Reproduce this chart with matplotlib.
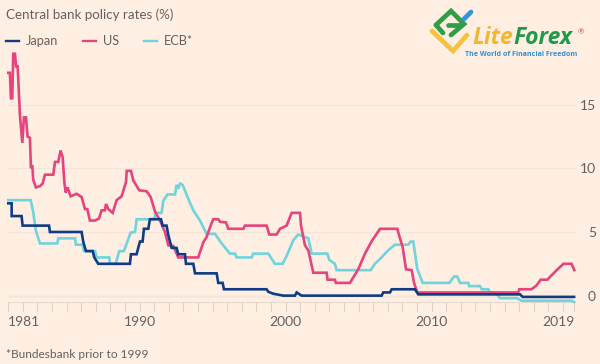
import matplotlib
matplotlib.use('Agg')
import matplotlib.pyplot as plt
from matplotlib.lines import Line2D

# Values
japan_years = [1981.0, 1981.23, 1981.23, 1981.91, 1981.98, 1983.79, 1983.85, 1986.02, 1986.14, 1986.32, 1986.78,
               1986.89, 1987.16, 1989.33, 1989.4, 1989.79, 1989.9, 1990.02, 1990.2, 1990.29, 1990.59, 1990.7,
               1991.46, 1991.57, 1991.84, 1991.96, 1992.19, 1992.53, 1992.64, 1993.1, 1993.17, 1993.67, 1993.79,
               1995.27, 1995.38, 1995.68, 1995.77, 1998.69, 1998.81, 1999.15, 1999.84, 2000.63, 2000.75, 2001.09,
               2006.57, 2006.68, 2007.14, 2007.26, 2008.85, 2009.08, 2016.05, 2016.23, 2019.75]
japan_rates = [7.25, 7.25, 6.25, 6.25, 5.5, 5.5, 5.0, 5.0, 4.2, 3.5, 3.5,
               3.0, 2.5, 2.5, 3.25, 3.25, 3.75, 4.25, 4.25, 5.25, 5.25, 6.0,
               6.0, 5.5, 5.5, 4.75, 3.75, 3.75, 3.25, 3.25, 2.5, 2.5, 1.75,
               1.75, 1.0, 1.0, 0.5, 0.5, 0.3, 0.15, 0.0, 0.0, 0.25, 0.0,
               0.0, 0.25, 0.25, 0.5, 0.5, 0.1, 0.1, -0.1, -0.1]

us_years = [1981.0, 1981.11, 1981.18, 1981.27, 1981.34, 1981.46, 1981.53, 1981.64, 1981.8, 1981.96, 1982.07, 1982.21,
            1982.32, 1982.48, 1982.55, 1982.64, 1982.71, 1982.89, 1983.17, 1983.35, 1983.51, 1984.08, 1984.2, 1984.42,
            1984.58, 1984.72, 1984.84, 1984.93, 1985.06, 1985.27, 1985.68, 1986.02, 1986.25, 1986.41, 1986.59, 1986.94,
            1987.21, 1987.39, 1987.62, 1987.69, 1987.85, 1988.15, 1988.42, 1988.76, 1989.06, 1989.11, 1989.4, 1989.56,
            1989.97, 1990.47, 1990.75, 1991.05, 1991.39, 1991.73, 1991.96, 1992.3, 1992.64, 1994.01, 1994.36, 1994.58,
            1994.86, 1995.04, 1995.38, 1995.5, 1995.91, 1996.07, 1997.1, 1997.21, 1998.69, 1998.88, 1999.38, 1999.61,
            2000.06, 2000.41, 2000.98, 2001.05, 2001.32, 2001.55, 2001.89, 2002.8, 2002.87, 2003.37, 2003.44, 2004.4,
            2004.97, 2005.43, 2005.89, 2006.46, 2007.64, 2007.83, 2008.01, 2008.24, 2008.63, 2008.79, 2009.01, 2015.93,
            2016.0, 2016.84, 2017.18, 2017.46, 2017.92, 2018.56, 2019.02, 2019.58, 2019.77]
us_rates = [17.5, 17.5, 15.5, 15.5, 19.0, 19.0, 18.0, 18.0, 14.1, 12.0, 14.0, 14.0,
            12.5, 12.4, 10.0, 10.25, 9.1, 8.5, 8.6, 8.8, 9.5, 9.5, 10.5, 10.5,
            11.4, 10.9, 8.9, 8.1, 8.5, 7.8, 8.0, 7.75, 6.8, 6.8, 5.9, 5.9,
            6.05, 6.7, 6.7, 7.2, 6.8, 6.5, 7.5, 7.8, 8.9, 9.8, 9.8, 9.05,
            8.27, 8.2, 7.75, 6.6, 5.9, 5.0, 3.95, 3.9, 3.0, 3.0, 4.2, 4.6,
            5.5, 6.0, 6.0, 5.8, 5.75, 5.25, 5.25, 5.5, 5.5, 4.8, 4.8, 5.25,
            5.5, 6.5, 6.5, 5.5, 3.95, 3.55, 1.8, 1.8, 1.25, 1.25, 1.0, 1.0,
            2.07, 3.3, 4.27, 5.25, 5.25, 4.5, 3.82, 2.07, 2.0, 1.0, 0.25, 0.25,
            0.5, 0.5, 0.8, 1.25, 1.25, 2.0, 2.5, 2.5, 2.0]

ecb_years = [1981.0, 1982.53, 1982.71, 1982.89, 1983.17, 1984.36, 1984.42, 1985.57, 1985.63, 1986.09, 1986.18, 1986.94,
             1987.05, 1987.92, 1987.96, 1988.35, 1988.6, 1988.92, 1989.11, 1989.38, 1989.68, 1989.79, 1990.98, 1991.11,
             1991.5, 1991.62, 1991.91, 1992.42, 1992.53, 1992.64, 1992.76, 1992.94, 1993.33, 1993.67, 1994.13, 1994.58,
             1995.16, 1995.61, 1996.18, 1996.53, 1996.64, 1997.67, 1997.78, 1998.81, 1999.26, 1999.79, 2000.06, 2000.52,
             2000.86, 2001.55, 2001.78, 2002.85, 2002.99, 2003.37, 2003.49, 2005.82, 2006.11, 2006.57, 2006.96, 2007.48,
             2008.4, 2008.56, 2008.74, 2009.01, 2009.38, 2011.21, 2011.53, 2011.75, 2011.94, 2012.51, 2012.57, 2013.31,
             2013.42, 2013.88, 2013.99, 2014.45, 2014.68, 2015.82, 2016.16, 2019.58, 2019.75]
ecb_rates = [7.5, 7.5, 6.55, 5.1, 4.1, 4.1, 4.5, 4.5, 4.0, 4.0, 3.5, 3.5,
             3.0, 3.0, 2.5, 2.5, 3.5, 3.5, 4.1, 4.95, 5.0, 6.0, 6.0, 6.5,
             6.5, 7.45, 7.95, 7.95, 8.7, 8.4, 8.8, 8.7, 7.6, 6.7, 5.9, 4.85,
             4.85, 4.1, 3.3, 3.3, 3.0, 3.0, 3.3, 3.3, 2.5, 2.5, 3.1, 4.35,
             4.8, 4.5, 3.3, 3.3, 2.8, 2.5, 2.0, 2.0, 2.5, 3.0, 3.5, 4.0,
             4.0, 4.25, 4.25, 2.1, 1.0, 1.0, 1.5, 1.5, 1.0, 1.0, 0.75, 0.75,
             0.5, 0.5, 0.25, 0.15, -0.2, -0.2, -0.4, -0.4, -0.5]

tick_years = list(range(1981, 2020)) + [2019.78]
tick_labels = {1981: '1981', 1990: '1990', 2000: '2000', 2010: '2010', 2019.78: '2019'}
y_ticks = [0, 5, 10, 15]

BG = '#ffeee2'
TEXT = '#66605c'
JAPAN = '#0f3d85'
US = '#e5447c'
ECB = '#6fd4dc'

plt.rcParams['font.family'] = ['Lato', 'DejaVu Sans']

W, H = 600, 364
fig = plt.figure(figsize=(6, 3.64), dpi=100, facecolor=BG)
ax = fig.add_axes([8.3 / W, (H - 302) / H, (577 - 8.3) / W, (302 - 41) / H], facecolor=BG)
ax.set_xlim(1981, 1981 + (577 - 8.3) / 14.6)
ax.set_ylim(-0.5, 20)

ax.plot(ecb_years, ecb_rates, color=ECB, lw=1.9, solid_joinstyle='miter', zorder=3, clip_on=False)
ax.plot(us_years, us_rates, color=US, lw=1.9, solid_joinstyle='miter', zorder=4, clip_on=False)
ax.plot(japan_years, japan_rates, color=JAPAN, lw=1.9, solid_joinstyle='miter', zorder=5, clip_on=False)

for side in ['top', 'left', 'right']:
    ax.spines[side].set_visible(False)
ax.spines['bottom'].set_color('#e6d9ce')
ax.spines['bottom'].set_linewidth(0.8)
ax.spines['bottom'].set_bounds(1981, 2019.78)

ax.set_yticks(y_ticks)
ax.set_yticklabels([str(v) for v in y_ticks])
ax.yaxis.tick_right()
ax.grid(axis='y', color='#f5e4d8', lw=0.9, zorder=1)
ax.axhline(0, color='#e6d9ce', lw=0.9, zorder=1)
ax.tick_params(axis='y', length=0, pad=13.7, labelsize=10, labelcolor=TEXT)
for lab in ax.get_yticklabels():
    lab.set_ha('right')

ax.set_xticks(tick_years)
ax.set_xticklabels([tick_labels.get(t, '') for t in tick_years])
ax.tick_params(axis='x', length=6.5, width=0.8, color='#dccfc4', pad=3.5, labelsize=10, labelcolor=TEXT)
for t, lab in zip(tick_years, ax.get_xticklabels()):
    if t == 1981:
        lab.set_ha('left')
    elif t == 2019.78:
        lab.set_ha('right')


def px(x, y):
    return x / W, 1 - y / H


# Title, legend, footnote
fig.text(*px(5.5, 14.5), 'Central bank policy rates (%)', color=TEXT, fontsize=9.6, va='center')
for x0, x1, tx, col, name in [(6, 19, 26, JAPAN, 'Japan'), (83, 96, 103, US, 'US'), (144, 157, 164, ECB, 'ECB*')]:
    fig.add_artist(Line2D([x0 / W, x1 / W], [1 - 40.5 / H] * 2, color=col, lw=1.7))
    fig.text(*px(tx, 41), name, color=TEXT, fontsize=9.2, va='center')
fig.text(*px(5.5, 354), '*Bundesbank prior to 1999', color=TEXT, fontsize=8.6, va='center')

# Logo
for pts, col in [([(436, 25), (451, 11), (464, 24), (451, 35)], '#2e9e47'),
                 ([(436, 25), (443, 33)], '#2e9e47'),
                 ([(448, 25), (460, 25)], '#2e9e47'),
                 ([(464, 19), (471, 12)], '#2f95dc'),
                 ([(432, 31), (453, 51), (467, 35)], '#f4c23c')]:
    fig.add_artist(Line2D([p[0] / W for p in pts], [1 - p[1] / H for p in pts], color=col, lw=3.4,
                          solid_capstyle='round', solid_joinstyle='miter'))
fig.text(*px(472, 37.5), 'Lite', color='#f2b632', fontsize=16.5, fontweight='bold', style='italic',
         va='center', family=['Open Sans', 'DejaVu Sans'])
fig.text(*px(513, 37.5), 'Forex', color='#1f9a4b', fontsize=16.5, fontweight='bold', style='italic',
         va='center', family=['Open Sans', 'DejaVu Sans'])
fig.text(*px(581, 32), '®', color='#d9534f', fontsize=5.5, ha='center', va='center')
fig.text(*px(465, 54), 'The World of Financial Freedom', color='#2f8fd6', fontsize=5.1, fontweight='bold',
         va='center', family=['Open Sans', 'DejaVu Sans'])

fig.savefig('out.png', dpi=100, facecolor=BG)
